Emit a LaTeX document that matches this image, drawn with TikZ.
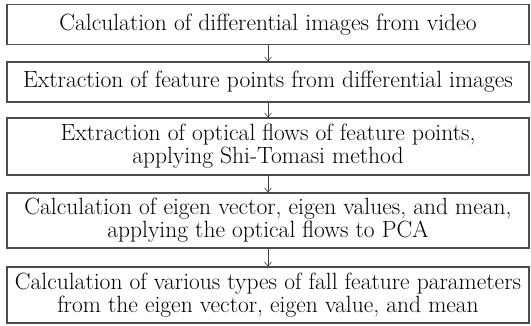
\documentclass[tikz,border=0pt]{standalone}
\usetikzlibrary{arrows.meta, positioning}

\tikzset{
  stepbox/.style={draw=black!70, line width=1.2pt, minimum width=522pt, inner sep=0pt,
    align=center, font=\rmfamily\fontsize{23.5}{23}\selectfont},
  flowarrow/.style={draw=black!75, line width=0.6pt, -{Straight Barb[length=4pt,width=7pt]}}
}

\begin{document}
\begin{tikzpicture}[x=1pt, y=1pt]
    \useasboundingbox (0, 0) rectangle (531, -325);

    \node[stepbox, minimum height=39.5pt] (calc) at (268, -24.5) {Calculation of differential images from video};
    \node[stepbox, minimum height=40pt] (extr) at (268, -82) {Extraction of feature points from differential images};
    \node[stepbox, minimum height=57pt] (flow) at (268, -146.5) {Extraction of optical flows of feature points,\\applying Shi-Tomasi method};
    \node[stepbox, minimum height=55pt] (pca) at (268, -220.5) {Calculation of eigen vector, eigen values, and mean,\\applying the optical flows to PCA};
    \node[stepbox, minimum height=56pt] (param) at (268, -295) {Calculation of various types of fall feature parameters\\from the eigen vector, eigen value, and mean};

    \draw[flowarrow]
    (calc) -- (extr);
    \draw[flowarrow]
    (extr) -- (flow);
    \draw[flowarrow]
    (flow) -- (pca);
    \draw[flowarrow]
    (pca) -- (param);
\end{tikzpicture}
\end{document}
